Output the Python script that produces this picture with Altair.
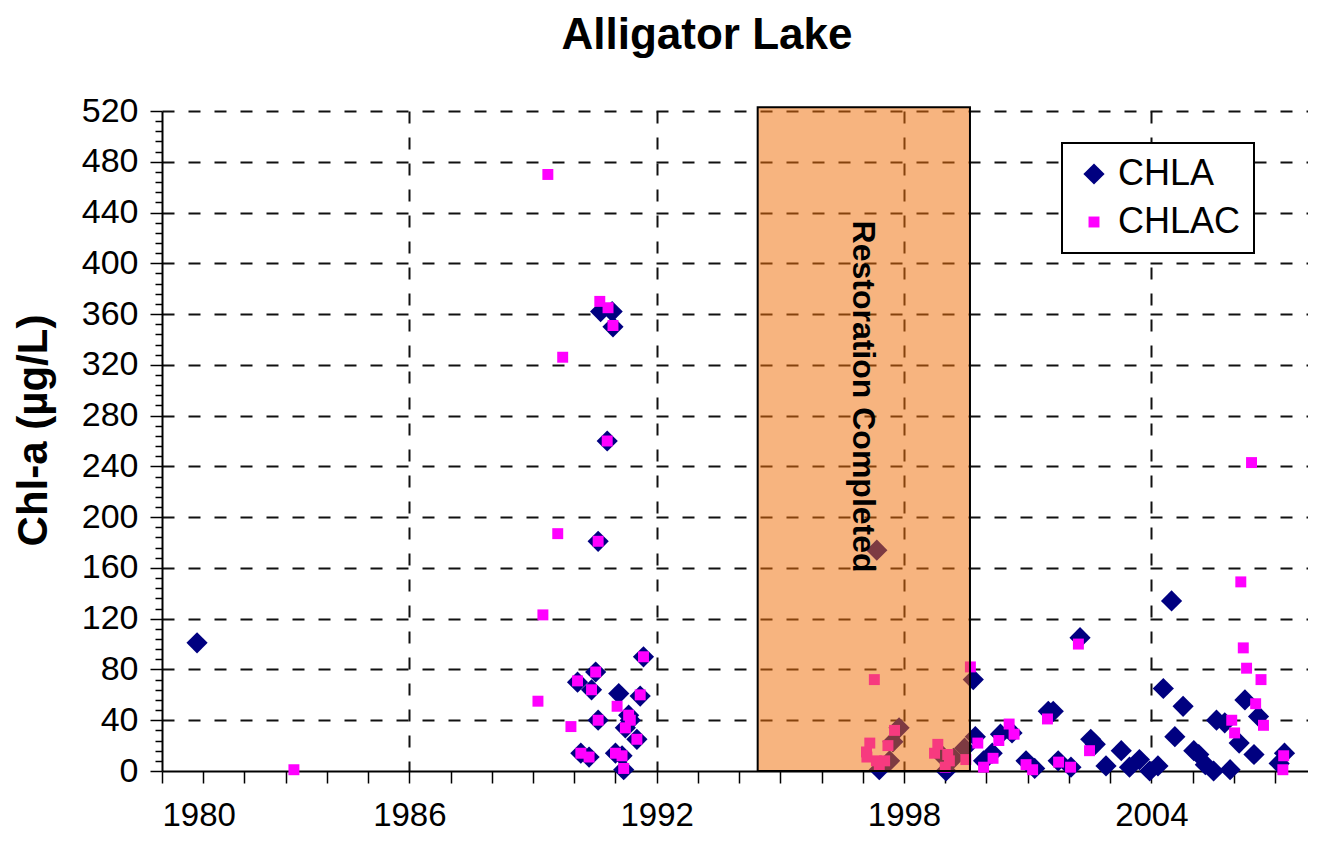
import altair as alt
import pandas as pd

# ---------------- data ----------------
chla_year = [1980.85,
             1990.08, 1990.16, 1990.36, 1990.42, 1990.52, 1990.58, 1990.58, 1990.64,
             1990.80, 1990.92, 1990.94, 1991.00, 1991.08, 1991.16, 1991.20, 1991.24,
             1991.32, 1991.36, 1991.52, 1991.60, 1991.68,
             1997.34, 1997.40, 1997.65, 1997.73, 1997.88, 1998.90, 1999.02, 1999.20,
             1999.47, 1999.68, 1999.73, 1999.93,
             2000.14, 2000.34, 2000.62, 2000.96, 2001.17, 2001.50, 2001.62, 2001.74,
             2002.05, 2002.27, 2002.53, 2002.64, 2002.90, 2003.27, 2003.47, 2003.71,
             2003.96, 2004.16, 2004.29, 2004.49, 2004.57, 2004.77, 2005.03, 2005.15,
             2005.31, 2005.51, 2005.58, 2005.78, 2005.91, 2006.13, 2006.27, 2006.49,
             2006.60, 2007.10, 2007.23]
chla_value = [101,
              70, 14, 11, 64, 78, 40, 181, 362,
              260, 362, 350, 14, 61, 12, 1, 34,
              44, 40, 25, 59, 90,
              174, 1, 8, 23, 34, 13, 0, 10,
              18, 72, 27, 8,
              14, 29, 30, 8, 2, 47, 47, 8,
              3, 105, 25, 21, 4, 16, 3, 9,
              0, 4, 65, 134, 27, 51, 16, 13,
              5, 0, 40, 38, 1, 22, 56, 13,
              43, 6, 14]

chlac_year = [1983.20,
              1989.12, 1989.24, 1989.36, 1989.60, 1989.72, 1989.92,
              1990.08, 1990.16, 1990.36, 1990.42, 1990.52, 1990.58, 1990.58, 1990.62,
              1990.80, 1990.82, 1990.94, 1991.00, 1991.04, 1991.16, 1991.20, 1991.24,
              1991.32, 1991.36, 1991.52, 1991.60, 1991.68,
              1997.09, 1997.10, 1997.17, 1997.28, 1997.33, 1997.40, 1997.53, 1997.61,
              1997.77, 1998.74, 1998.82, 1999.00, 1999.06, 1999.10, 1999.50, 1999.61,
              1999.79, 1999.93,
              2000.16, 2000.30, 2000.55, 2000.67, 2000.96, 2001.12, 2001.48, 2001.75,
              2002.04, 2002.23, 2002.50,
              2005.95, 2006.02, 2006.17, 2006.23, 2006.31, 2006.43, 2006.53, 2006.66,
              2006.72, 2007.19, 2007.21]
chlac_value = [1,
               55, 123, 470, 187, 326, 35,
               71, 14, 11, 64, 78, 40, 181, 370,
               260, 365, 351, 14, 51, 12, 2, 34,
               44, 40, 25, 60, 90,
               15, 11, 22, 72, 8, 4, 8, 20,
               32, 14, 21, 3, 13, 8, 9, 82,
               22, 3,
               10, 24, 37, 29, 5, 1, 41, 7,
               3, 100, 16,
               40, 30, 149, 97, 81, 243, 53, 72,
               36, 1, 12]

series_names = ["CHLA", "CHLAC"]
series_colors = ["#000080", "#FF00FF"]
series_shapes = ["diamond", "square"]
series_sizes = [450, 120]

restoration_start = [1994.45]
restoration_end = [1999.6]
restoration_low = [0]
restoration_high = [523]
restoration_label = ["Restoration Completed"]
restoration_label_year = [1997.0]
restoration_label_value = [295]

x_tick_values = list(range(1980, 2008))
y_tick_values = list(range(0, 521, 8))

# ---------------- tables ----------------
points = pd.concat([
    pd.DataFrame({"year": chla_year, "value": chla_value, "series": "CHLA"}),
    pd.DataFrame({"year": chlac_year, "value": chlac_value, "series": "CHLAC"}),
], ignore_index=True)

box = pd.DataFrame({"x": restoration_start, "x2": restoration_end,
                    "y": restoration_low, "y2": restoration_high})
label = pd.DataFrame({"x": restoration_label_year, "y": restoration_label_value,
                      "text": restoration_label})

FONT = "Liberation Sans"

x_scale = alt.Scale(domain=[1980, 2007.8], nice=False, zero=False)
y_scale = alt.Scale(domain=[0, 520], nice=False, zero=True)

x_axis = alt.Axis(
    values=x_tick_values, tickCount=200, format="d", title=None,
    labelExpr="(datum.value - 1980) % 6 === 0 ? datum.label : ''",
    labelOverlap=False, labelPadding=16, tickSize=12, labelFontSize=33,
    gridOpacity={"condition": {"test": "(datum.value - 1980) % 6 === 0 && datum.value > 1980", "value": 1}, "value": 0},
)
y_axis = alt.Axis(
    values=y_tick_values, tickCount=200, title="Chl-a (\u00b5g/L)",
    labelExpr="datum.value % 40 === 0 ? datum.label : ''",
    labelOverlap=False, labelPadding=12,
    tickSize={"condition": {"test": "datum.value % 40 === 0", "value": 12}, "value": 7},
    gridOpacity={"condition": {"test": "datum.value % 40 === 0 && datum.value > 0", "value": 1}, "value": 0},
    titleX=-129, titleY=319, titleAngle=270, titleAlign="center", titleBaseline="middle",
    titleFontSize=42, titleFontWeight="bold",
)

leg = alt.Legend(orient="none", legendX=900, legendY=32, title=None)

pts = alt.Chart(points).mark_point(filled=True, opacity=1, strokeWidth=0).encode(
    x=alt.X("year:Q", scale=x_scale, axis=x_axis),
    y=alt.Y("value:Q", scale=y_scale, axis=y_axis),
    color=alt.Color("series:N", scale=alt.Scale(domain=series_names, range=series_colors), legend=leg),
    shape=alt.Shape("series:N", scale=alt.Scale(domain=series_names, range=series_shapes), legend=leg),
    size=alt.Size("series:N", scale=alt.Scale(domain=series_names, range=series_sizes), legend=leg),
)

rect = alt.Chart(box).mark_rect(fill="#F0700A", fillOpacity=0.52, stroke="black",
                                strokeWidth=2, strokeOpacity=1).encode(
    x="x:Q", x2="x2:Q", y="y:Q", y2="y2:Q")

txt = alt.Chart(label).mark_text(angle=90, fontSize=32, fontWeight="bold", font=FONT,
                                 color="black", align="center", baseline="middle").encode(
    x="x:Q", y="y:Q", text="text:N")

chart = alt.layer(pts, rect, txt).properties(
    width=1146, height=660,
    title=alt.TitleParams("Alligator Lake", fontSize=44, fontWeight="bold", font=FONT,
                          color="black", anchor="middle", dx=-28, offset=36),
    autosize=alt.AutoSizeParams(type="none"),
    padding={"left": 154, "top": 103, "right": 0, "bottom": 66},
).configure_view(strokeWidth=0).configure_axis(
    domainColor="black", domainWidth=2, tickColor="black", tickWidth=1.5,
    gridColor="#111111", gridDash=[12, 14], gridWidth=2,
    labelFont=FONT, labelFontSize=34, labelColor="black",
    titleFont=FONT, titleColor="black",
).configure_legend(
    strokeColor="black", strokeWidth=2, fillColor="white", padding=13,
    labelFont=FONT, labelFontSize=36, labelColor="black", labelOffset=6,
    rowPadding=12, symbolOffset=1, symbolStrokeWidth=0,
)

chart.save("out.html", embed_options={"renderer": "svg", "actions": False})
